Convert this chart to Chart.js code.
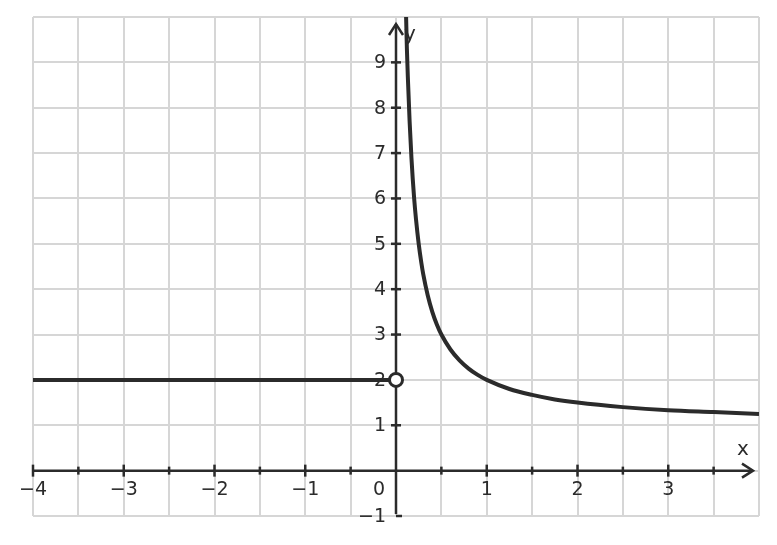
<!DOCTYPE html>
<html>
<head>
<meta charset="utf-8">
<script src="https://cdn.jsdelivr.net/npm/chart.js@4/dist/chart.umd.min.js"></script>
<style>
html,body{margin:0;padding:0;background:#fff;}
canvas{display:block;}
</style>
</head>
<body>
<canvas id="c" width="777" height="545"></canvas>
<script>
// Left branch: constant y = 2 for x < 0
const leftX = [-4, 0];
const leftY = [2, 2];
// Right branch
const rightX = [0.1, 0.11, 0.12, 0.13, 0.15, 0.17, 0.2, 0.22, 0.25, 0.28, 0.3, 0.35, 0.4, 0.45, 0.5, 0.6, 0.7, 0.8, 0.9, 1, 1.25, 1.5, 1.75, 2, 2.5, 3, 3.5, 4];
const rightY = [11, 10.1, 9.3, 8.7, 7.7, 6.9, 6, 5.55, 5, 4.57, 4.33, 3.86, 3.5, 3.22, 3, 2.67, 2.43, 2.25, 2.11, 2, 1.8, 1.67, 1.57, 1.5, 1.4, 1.33, 1.29, 1.25];
// Open circle
const holeX = [0];
const holeY = [2];
// Tick labels
const xTickValues = [-4, -3, -2, -1, 0, 1, 2, 3];
const xTickLabels = ['\u22124', '\u22123', '\u22122', '\u22121', '0', '1', '2', '3'];
const yTickValues = [-1, 1, 2, 3, 4, 5, 6, 7, 8, 9];
const yTickLabels = ['\u22121', '1', '2', '3', '4', '5', '6', '7', '8', '9'];
const xHalfTicks = [-3.5, -2.5, -1.5, -0.5, 0.5, 1.5, 2.5, 3.5];

const INK = '#2b2b2b';
const FONT = '19px "DejaVu Sans"';

function pts(xs, ys){ return xs.map((x,i)=>({x:x, y:ys[i]})); }

const axesPlugin = {
  id: 'mathAxes',
  beforeDatasetsDraw(chart){
    const ctx = chart.ctx, xs = chart.scales.x, ys = chart.scales.y;
    const x0 = xs.getPixelForValue(0), y0 = ys.getPixelForValue(0);
    ctx.save();
    ctx.strokeStyle = INK; ctx.lineWidth = 2.5; ctx.lineCap = 'butt';
    // x axis
    const xEnd = xs.getPixelForValue(4) - 6;
    ctx.beginPath(); ctx.moveTo(xs.getPixelForValue(-4), y0); ctx.lineTo(xEnd, y0); ctx.stroke();
    ctx.beginPath(); ctx.moveTo(xEnd-11, y0-7); ctx.lineTo(xEnd, y0); ctx.lineTo(xEnd-11, y0+7); ctx.stroke();
    // y axis
    const yTop = ys.getPixelForValue(10) + 7;
    ctx.beginPath(); ctx.moveTo(x0, ys.getPixelForValue(-1) - 2); ctx.lineTo(x0, yTop); ctx.stroke();
    ctx.beginPath(); ctx.moveTo(x0-7, yTop+11); ctx.lineTo(x0, yTop); ctx.lineTo(x0+7, yTop+11); ctx.stroke();
    // x ticks
    xTickValues.forEach(v=>{ if(v===0) return; const p=xs.getPixelForValue(v);
      ctx.beginPath(); ctx.moveTo(p, y0-6); ctx.lineTo(p, y0+6); ctx.stroke(); });
    xHalfTicks.forEach(v=>{ const p=xs.getPixelForValue(v);
      ctx.beginPath(); ctx.moveTo(p, y0-4); ctx.lineTo(p, y0+4); ctx.stroke(); });
    // y ticks
    yTickValues.forEach(v=>{ const p=ys.getPixelForValue(v);
      if(v===-1){ ctx.beginPath(); ctx.moveTo(x0, p); ctx.lineTo(x0+6, p); ctx.stroke(); return; }
      ctx.beginPath(); ctx.moveTo(x0-5, p); ctx.lineTo(x0+5, p); ctx.stroke(); });
    ctx.restore();
  },
  afterDraw(chart){
    const ctx = chart.ctx, xs = chart.scales.x, ys = chart.scales.y;
    const x0 = xs.getPixelForValue(0), y0 = ys.getPixelForValue(0);
    ctx.save();
    ctx.fillStyle = INK; ctx.font = FONT;
    ctx.textAlign = 'center'; ctx.textBaseline = 'middle';
    xTickValues.forEach((v,i)=>{
      let p = xs.getPixelForValue(v);
      if(v===0) p -= 17;
      ctx.fillText(xTickLabels[i], p, y0 + 19);
    });
    ctx.textAlign = 'right';
    yTickValues.forEach((v,i)=>{
      ctx.fillText(yTickLabels[i], x0 - 10, ys.getPixelForValue(v) + 1);
    });
    ctx.textAlign = 'center';
    ctx.font = '20px "DejaVu Sans"';
    ctx.fillText('x', xs.getPixelForValue(4) - 16, y0 - 21);
    ctx.fillText('y', x0 + 14, ys.getPixelForValue(10) + 18);
    ctx.restore();
  }
};

new Chart(document.getElementById('c'), {
  type: 'scatter',
  data: {
    datasets: [
      { data: pts(leftX, leftY), showLine: true, borderColor: INK, borderWidth: 4, pointRadius: 0, fill: false, order: 2 },
      { data: pts(rightX, rightY), showLine: true, borderColor: INK, borderWidth: 4, pointRadius: 0, fill: false, cubicInterpolationMode: 'monotone', order: 2 },
      { data: pts(holeX, holeY), showLine: false, pointRadius: 6.5, pointBackgroundColor: '#ffffff', pointBorderColor: INK, pointBorderWidth: 3, order: 1 }
    ]
  },
  options: {
    responsive: false,
    animation: false,
    devicePixelRatio: 1,
    layout: { padding: { left: 33, right: 18, top: 17, bottom: 29 } },
    plugins: { legend: { display: false }, tooltip: { enabled: false } },
    scales: {
      x: { type: 'linear', min: -4, max: 4,
           ticks: { display: false, stepSize: 0.5 },
           border: { display: false },
           grid: { color: '#d6d6d6', lineWidth: 2, drawTicks: false } },
      y: { type: 'linear', min: -1, max: 10,
           ticks: { display: false, stepSize: 1 },
           border: { display: false },
           grid: { color: '#d6d6d6', lineWidth: 2, drawTicks: false } }
    }
  },
  plugins: [axesPlugin]
});
</script>
</body>
</html>
